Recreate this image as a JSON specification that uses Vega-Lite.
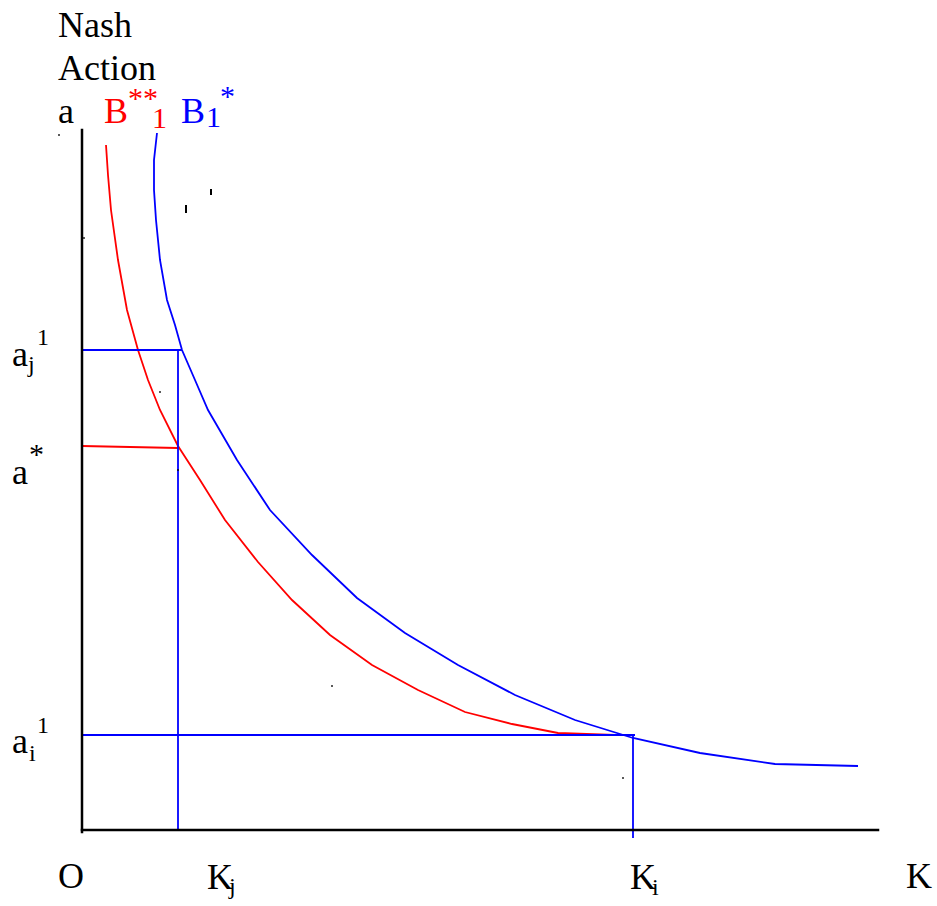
{
  "$schema": "https://vega.github.io/schema/vega-lite/v6.json",
  "width": 937,
  "height": 906,
  "autosize": {"type": "fit", "contains": "padding"},
  "padding": 0,
  "background": "white",
  "config": {"view": {"stroke": null}},
  "datasets": {
    "paths": [
      {"seg": "a-axis", "series": "axes", "i": 0, "k": 0, "a": 7.0},
      {"seg": "a-axis", "series": "axes", "i": 1, "k": 0, "a": -0.02},
      {"seg": "K-axis", "series": "axes", "i": 0, "k": 0, "a": 0},
      {"seg": "K-axis", "series": "axes", "i": 1, "k": 7.96, "a": 0},

      {"seg": "B**1", "series": "B**1", "i": 0, "k": 0.24, "a": 6.85},
      {"seg": "B**1", "series": "B**1", "i": 1, "k": 0.26, "a": 6.55},
      {"seg": "B**1", "series": "B**1", "i": 2, "k": 0.29, "a": 6.2},
      {"seg": "B**1", "series": "B**1", "i": 3, "k": 0.36, "a": 5.7},
      {"seg": "B**1", "series": "B**1", "i": 4, "k": 0.45, "a": 5.2},
      {"seg": "B**1", "series": "B**1", "i": 5, "k": 0.56, "a": 4.8},
      {"seg": "B**1", "series": "B**1", "i": 6, "k": 0.66, "a": 4.5},
      {"seg": "B**1", "series": "B**1", "i": 7, "k": 0.78, "a": 4.2},
      {"seg": "B**1", "series": "B**1", "i": 8, "k": 0.96, "a": 3.84},
      {"seg": "B**1", "series": "B**1", "i": 9, "k": 1.18, "a": 3.5},
      {"seg": "B**1", "series": "B**1", "i": 10, "k": 1.43, "a": 3.1},
      {"seg": "B**1", "series": "B**1", "i": 11, "k": 1.76, "a": 2.68},
      {"seg": "B**1", "series": "B**1", "i": 12, "k": 2.1, "a": 2.3},
      {"seg": "B**1", "series": "B**1", "i": 13, "k": 2.48, "a": 1.95},
      {"seg": "B**1", "series": "B**1", "i": 14, "k": 2.9, "a": 1.65},
      {"seg": "B**1", "series": "B**1", "i": 15, "k": 3.36, "a": 1.4},
      {"seg": "B**1", "series": "B**1", "i": 16, "k": 3.83, "a": 1.18},
      {"seg": "B**1", "series": "B**1", "i": 17, "k": 4.3, "a": 1.06},
      {"seg": "B**1", "series": "B**1", "i": 18, "k": 4.76, "a": 0.97},
      {"seg": "B**1", "series": "B**1", "i": 19, "k": 5.33, "a": 0.95},
      {"seg": "B**1", "series": "B**1", "i": 20, "k": 5.48, "a": 0.95},

      {"seg": "a*-line", "series": "B**1", "i": 0, "k": 0, "a": 3.84},
      {"seg": "a*-line", "series": "B**1", "i": 1, "k": 0.96, "a": 3.82},

      {"seg": "B1*", "series": "B1*", "i": 0, "k": 0.75, "a": 6.97},
      {"seg": "B1*", "series": "B1*", "i": 1, "k": 0.72, "a": 6.7},
      {"seg": "B1*", "series": "B1*", "i": 2, "k": 0.72, "a": 6.4},
      {"seg": "B1*", "series": "B1*", "i": 3, "k": 0.74, "a": 6.1},
      {"seg": "B1*", "series": "B1*", "i": 4, "k": 0.78, "a": 5.7},
      {"seg": "B1*", "series": "B1*", "i": 5, "k": 0.85, "a": 5.3},
      {"seg": "B1*", "series": "B1*", "i": 6, "k": 0.93, "a": 5.05},
      {"seg": "B1*", "series": "B1*", "i": 7, "k": 1.0, "a": 4.8},
      {"seg": "B1*", "series": "B1*", "i": 8, "k": 1.13, "a": 4.5},
      {"seg": "B1*", "series": "B1*", "i": 9, "k": 1.26, "a": 4.2},
      {"seg": "B1*", "series": "B1*", "i": 10, "k": 1.55, "a": 3.7},
      {"seg": "B1*", "series": "B1*", "i": 11, "k": 1.88, "a": 3.2},
      {"seg": "B1*", "series": "B1*", "i": 12, "k": 2.3, "a": 2.75},
      {"seg": "B1*", "series": "B1*", "i": 13, "k": 2.75, "a": 2.32},
      {"seg": "B1*", "series": "B1*", "i": 14, "k": 3.23, "a": 1.97},
      {"seg": "B1*", "series": "B1*", "i": 15, "k": 3.76, "a": 1.65},
      {"seg": "B1*", "series": "B1*", "i": 16, "k": 4.33, "a": 1.35},
      {"seg": "B1*", "series": "B1*", "i": 17, "k": 4.93, "a": 1.1},
      {"seg": "B1*", "series": "B1*", "i": 18, "k": 5.51, "a": 0.92},
      {"seg": "B1*", "series": "B1*", "i": 19, "k": 6.18, "a": 0.77},
      {"seg": "B1*", "series": "B1*", "i": 20, "k": 6.93, "a": 0.66},
      {"seg": "B1*", "series": "B1*", "i": 21, "k": 7.76, "a": 0.64},

      {"seg": "aj1-level", "series": "B1*", "i": 0, "k": 0, "a": 4.8},
      {"seg": "aj1-level", "series": "B1*", "i": 1, "k": 1.0, "a": 4.8},
      {"seg": "Kj-drop", "series": "B1*", "i": 0, "k": 0.96, "a": 4.8},
      {"seg": "Kj-drop", "series": "B1*", "i": 1, "k": 0.96, "a": 0},
      {"seg": "ai1-level", "series": "B1*", "i": 0, "k": 0, "a": 0.95},
      {"seg": "ai1-level", "series": "B1*", "i": 1, "k": 5.53, "a": 0.95},
      {"seg": "Ki-drop", "series": "B1*", "i": 0, "k": 5.51, "a": 0.95},
      {"seg": "Ki-drop", "series": "B1*", "i": 1, "k": 5.51, "a": -0.08}
    ],
    "labels": [
      {"text": "Nash", "series": "axes", "size": "main", "k": -0.24, "a": 7.93},
      {"text": "Action", "series": "axes", "size": "main", "k": -0.24, "a": 7.5},
      {"text": "a", "series": "axes", "size": "main", "k": -0.24, "a": 7.07},
      {"text": "B", "series": "B**1", "size": "main", "k": 0.22, "a": 7.07},
      {"text": "**", "series": "B**1", "size": "small", "k": 0.46, "a": 7.22},
      {"text": "1", "series": "B**1", "size": "small", "k": 0.7, "a": 7.02},
      {"text": "B", "series": "B1*", "size": "main", "k": 0.99, "a": 7.07},
      {"text": "1", "series": "B1*", "size": "small", "k": 1.24, "a": 7.03},
      {"text": "*", "series": "B1*", "size": "small", "k": 1.38, "a": 7.24},

      {"text": "a", "series": "axes", "size": "main", "k": -0.7, "a": 4.64},
      {"text": "j", "series": "axes", "size": "tiny", "k": -0.54, "a": 4.58},
      {"text": "1", "series": "axes", "size": "tiny", "k": -0.45, "a": 4.85},
      {"text": "a", "series": "axes", "size": "main", "k": -0.7, "a": 3.46},
      {"text": "*", "series": "axes", "size": "small", "k": -0.53, "a": 3.66},
      {"text": "a", "series": "axes", "size": "main", "k": -0.7, "a": 0.77},
      {"text": "i", "series": "axes", "size": "tiny", "k": -0.53, "a": 0.69},
      {"text": "1", "series": "axes", "size": "tiny", "k": -0.45, "a": 0.97},

      {"text": "O", "series": "axes", "size": "main", "k": -0.24, "a": -0.58},
      {"text": "K", "series": "axes", "size": "main", "k": 1.25, "a": -0.59},
      {"text": "j", "series": "axes", "size": "tiny", "k": 1.47, "a": -0.64},
      {"text": "K", "series": "axes", "size": "main", "k": 5.48, "a": -0.59},
      {"text": "i", "series": "axes", "size": "tiny", "k": 5.7, "a": -0.65},
      {"text": "K", "series": "axes", "size": "main", "k": 8.24, "a": -0.58}
    ],
    "specks": [
      {"k": -0.23, "a": 6.95},
      {"k": 0.02, "a": 5.92},
      {"k": 0.78, "a": 4.38},
      {"k": 0.96, "a": 3.6},
      {"k": 2.5, "a": 1.44},
      {"k": 5.41, "a": 0.52}
    ],
    "dashes": [
      {"k": 1.04, "a": 6.25, "a2": 6.17},
      {"k": 1.29, "a": 6.41, "a2": 6.35}
    ]
  },
  "layer": [
    {
      "data": {"name": "paths"},
      "transform": [{"filter": "datum.series !== 'axes'"}],
      "mark": {"type": "line", "strokeWidth": 1.8},
      "encoding": {
        "x": {"field": "k", "type": "quantitative", "scale": {"domain": [-0.82, 8.55], "nice": false, "zero": false}, "axis": null},
        "y": {"field": "a", "type": "quantitative", "scale": {"domain": [-0.76, 8.3], "nice": false, "zero": false}, "axis": null},
        "color": {"field": "series", "type": "nominal", "scale": {"domain": ["axes", "B**1", "B1*"], "range": ["#000000", "#ff0000", "#0000ff"]}, "legend": null},
        "detail": {"field": "seg"},
        "order": {"field": "i", "type": "quantitative"}
      }
    },
    {
      "data": {"name": "paths"},
      "transform": [{"filter": "datum.series === 'axes'"}],
      "mark": {"type": "line", "strokeWidth": 2.5, "strokeCap": "square"},
      "encoding": {
        "x": {"field": "k", "type": "quantitative"},
        "y": {"field": "a", "type": "quantitative"},
        "color": {"field": "series", "type": "nominal"},
        "detail": {"field": "seg"},
        "order": {"field": "i", "type": "quantitative"}
      }
    },
    {
      "data": {"name": "labels"},
      "mark": {"type": "text", "font": "'Liberation Serif', 'Times New Roman', 'DejaVu Serif', serif", "align": "left", "baseline": "alphabetic"},
      "encoding": {
        "x": {"field": "k", "type": "quantitative"},
        "y": {"field": "a", "type": "quantitative"},
        "text": {"field": "text"},
        "color": {"field": "series", "type": "nominal"},
        "size": {"field": "size", "type": "ordinal", "scale": {"domain": ["main", "small", "tiny"], "range": [36, 24, 20]}, "legend": null}
      }
    },
    {
      "data": {"name": "specks"},
      "mark": {"type": "square", "size": 3, "color": "#000000", "opacity": 1},
      "encoding": {
        "x": {"field": "k", "type": "quantitative"},
        "y": {"field": "a", "type": "quantitative"}
      }
    },
    {
      "data": {"name": "dashes"},
      "mark": {"type": "rule", "strokeWidth": 2, "color": "#000000"},
      "encoding": {
        "x": {"field": "k", "type": "quantitative"},
        "y": {"field": "a", "type": "quantitative"},
        "y2": {"field": "a2"}
      }
    }
  ]
}
